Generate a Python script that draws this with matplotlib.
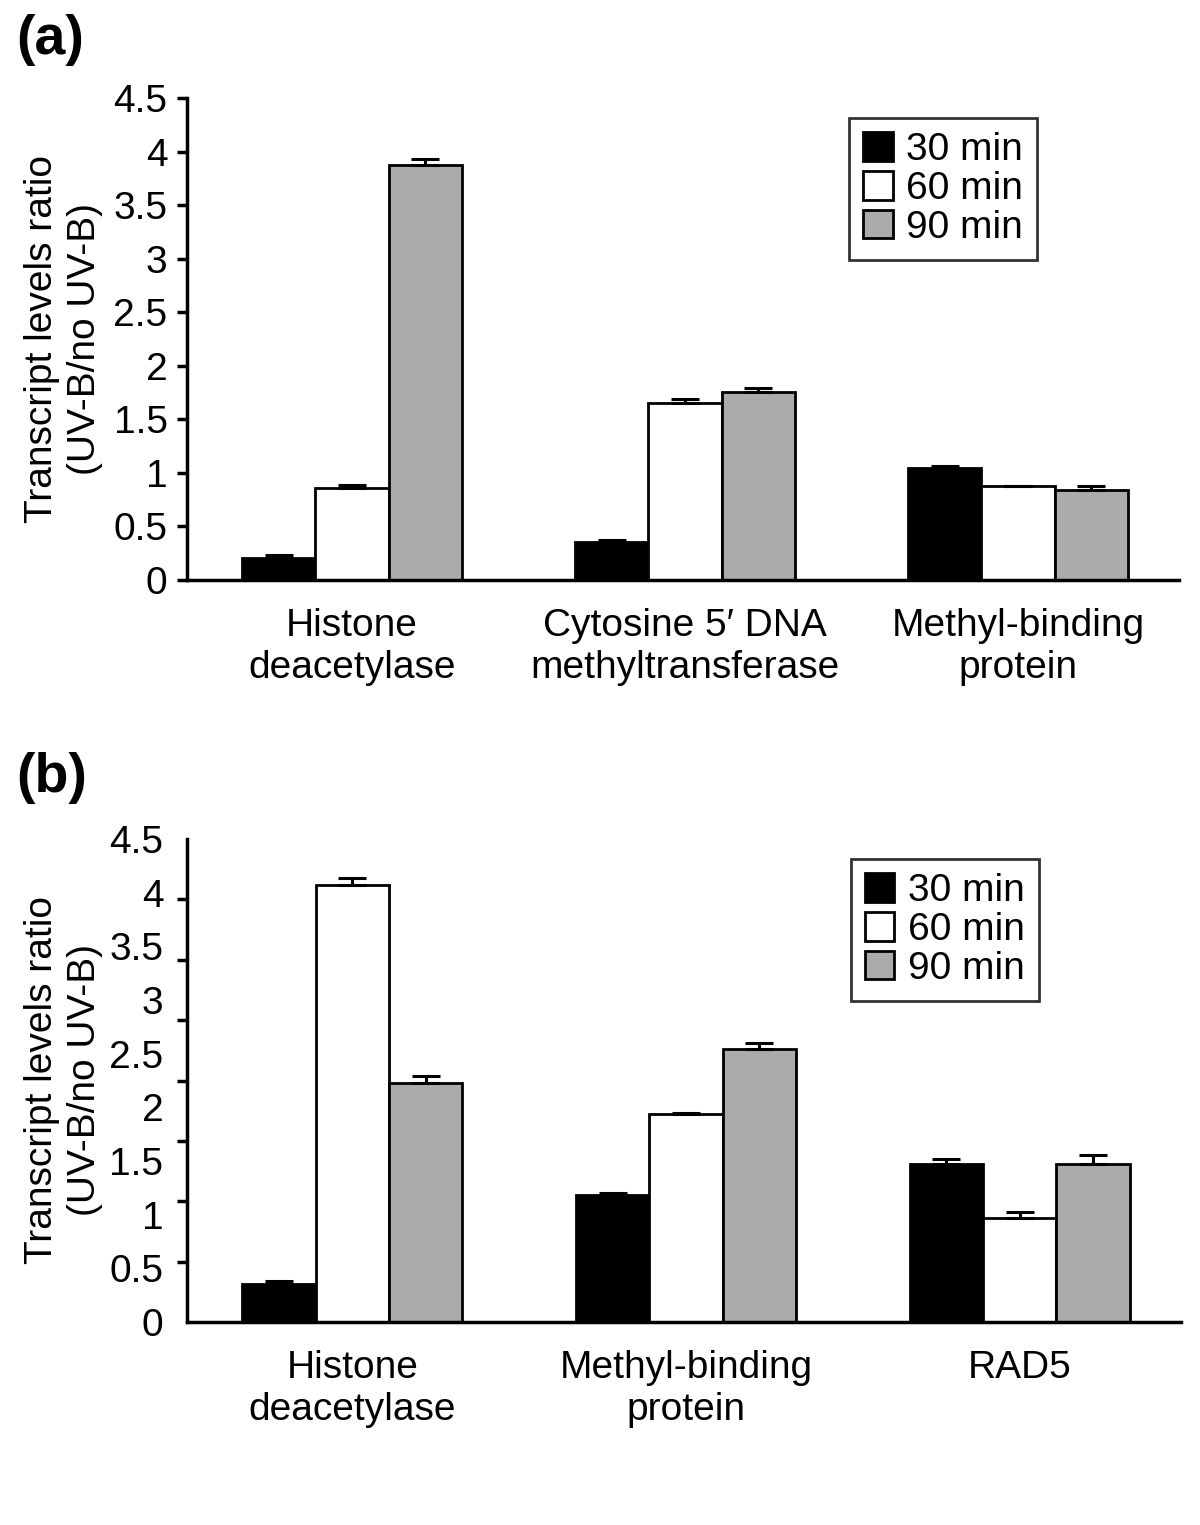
import numpy as np
import matplotlib
matplotlib.use("Agg")
import matplotlib.pyplot as plt
from matplotlib.patches import Patch

plt.rcParams['font.family'] = ['Liberation Sans', 'DejaVu Sans']

series = ["30 min", "60 min", "90 min"]
colors = ["#000000", "#FFFFFF", "#ABABAB"]

cats_a = ["Histone\ndeacetylase", "Cytosine 5\u2032 DNA\nmethyltransferase", "Methyl-binding\nprotein"]
vals_a = [[0.205, 0.355, 1.045],
          [0.86, 1.65, 0.878],
          [3.87, 1.755, 0.84]]
errs_a = [[0.025, 0.02, 0.02],
          [0.03, 0.04, 0.004],
          [0.065, 0.04, 0.04]]

cats_b = ["Histone\ndeacetylase", "Methyl-binding\nprotein", "RAD5"]
vals_b = [[0.355, 1.18, 1.475],
          [4.07, 1.94, 0.97],
          [2.23, 2.54, 1.475]]
errs_b = [[0.03, 0.02, 0.04],
          [0.065, 0.01, 0.055],
          [0.06, 0.055, 0.085]]

yticks = [0, 0.5, 1, 1.5, 2, 2.5, 3, 3.5, 4, 4.5]
ytick_labels = ["0", "0.5", "1", "1.5", "2", "2.5", "3", "3.5", "4", "4.5"]

W, H = 1200, 1525
fig = plt.figure(figsize=(W / 100, H / 100), dpi=100)

FS = 28
LW = 2.0
width = 0.22


def panel(rect, cats, vals, errs, letter, letter_y, b_style=False):
    ax = fig.add_axes(rect)
    x = np.arange(len(cats))
    for k in range(3):
        xs = x + (k - 1) * width
        ax.bar(xs, vals[k], width=width, color=colors[k], edgecolor="black",
               linewidth=LW, zorder=2)
        ax.errorbar(xs, vals[k], yerr=[np.zeros(len(cats)), errs[k]], fmt="none",
                    ecolor="black", elinewidth=2.2, capsize=10, capthick=2.2, zorder=3)
    ax.set_xlim(-0.495, 2.483)
    ax.set_ylim(0, 4.5)
    ax.spines["top"].set_visible(False)
    ax.spines["right"].set_visible(False)
    for s in ("left", "bottom"):
        ax.spines[s].set_linewidth(2.5)
    ax.set_xticks(x)
    ax.set_xticklabels(cats, fontsize=FS, linespacing=1.22)
    ax.tick_params(axis="x", length=0, pad=20)
    ax.set_yticks(yticks)
    ax.set_yticklabels(ytick_labels, fontsize=FS)
    if b_style:
        ax.tick_params(axis="y", which="major", length=0, pad=17)
        ax.set_yticks(np.linspace(0, 4.5, 9), minor=True)
        ax.tick_params(axis="y", which="minor", length=7, width=2.5, direction="out")
    else:
        ax.tick_params(axis="y", length=7, width=2.5, pad=7, direction="out")
    ax.set_ylabel("Transcript levels ratio\n(UV-B/no UV-B)", fontsize=FS, linespacing=1.25)
    ax.yaxis.set_label_coords(-0.085, 0.5)
    handles = [Patch(facecolor=c, edgecolor="black", linewidth=2) for c in colors]
    leg = ax.legend(handles, series, loc="upper right", bbox_to_anchor=(0.857, 0.958),
                    borderaxespad=0, fontsize=FS, frameon=True, fancybox=False,
                    handlelength=0.75, handleheight=0.75, handletextpad=0.35,
                    labelspacing=0.07, borderpad=0.36)
    leg.get_frame().set_edgecolor("black")
    leg.get_frame().set_linewidth(2)
    fig.text(16 / W, 1 - letter_y / H, letter, fontsize=40, fontweight="bold",
             ha="left", va="center")
    return ax


panel([187 / W, 1 - 580 / H, 992 / W, 482 / H], cats_a, vals_a, errs_a, "(a)", 40)
panel([187 / W, 1 - 1322 / H, 994 / W, 483 / H], cats_b, vals_b, errs_b, "(b)", 778, b_style=True)

fig.savefig("out.png", dpi=100, facecolor="white")
